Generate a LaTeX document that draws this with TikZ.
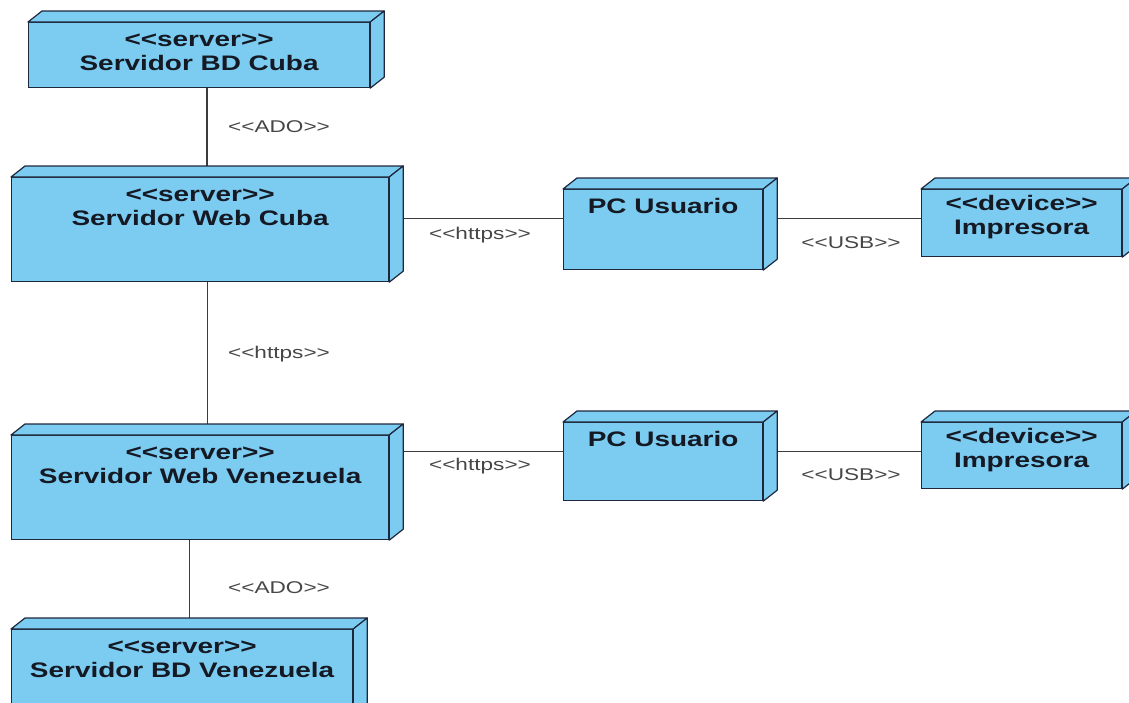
\documentclass[tikz,border=0pt]{standalone}
\usepackage{fontspec}
\newfontfamily\nodefont[FakeStretch=1.33]{Liberation Sans}
\usetikzlibrary{positioning,backgrounds}
\definecolor{nodefill}{RGB}{124,203,241}
\definecolor{nodeline}{RGB}{30,40,60}
\definecolor{nodeink}{RGB}{20,25,35}
\definecolor{lblink}{RGB}{70,70,70}
\definecolor{connline}{RGB}{60,60,60}
\tikzset{
  nodebox/.style={draw=nodeline, fill=nodefill, rectangle, line width=1.2pt, anchor=north west, inner sep=0pt},
  nodeface/.style={draw=nodeline, fill=nodefill, line width=1.2pt, line join=round},
  nodetext/.style={font=\nodefont\bfseries\fontsize{21}{24}\selectfont, text=nodeink, align=center, inner sep=0pt, anchor=base},
  conn/.style={draw=connline, line width=1.3pt},
  lbl/.style={font=\nodefont\fontsize{17}{20}\selectfont, text=lblink, inner sep=1pt},
}

\begin{document}
\begin{tikzpicture}[x=1pt,y=-1pt]
\useasboundingbox (0,0) rectangle (1129,702);
% nodes (front faces)
\node[nodebox, minimum width=341pt, minimum height=65pt] (bdcuba) at (28,22) {};
\node[nodebox, minimum width=377pt, minimum height=104pt] (webcuba) at (11,177) {};
\node[nodebox, minimum width=199pt, minimum height=80pt] (pc1) at (563,189) {};
\node[nodebox, minimum width=200pt, minimum height=67pt] (imp1) at (921,189) {};
\node[nodebox, minimum width=377pt, minimum height=104pt] (webven) at (11,435) {};
\node[nodebox, minimum width=199pt, minimum height=78pt] (pc2) at (563,422) {};
\node[nodebox, minimum width=200pt, minimum height=66pt] (imp2) at (921,422) {};
\node[nodebox, minimum width=341pt, minimum height=90pt] (bdven) at (11,629) {};
% depth of the boxes
\foreach \n in {bdcuba,webcuba,pc1,imp1,webven,pc2,imp2,bdven} {
  \draw[nodeface] (\n.north west) -- ++(14,-11) -- ([shift={(14,-11)}]\n.north east) -- (\n.north east) -- cycle;
  \draw[nodeface] (\n.north east) -- ++(14,-11) -- ([shift={(14,-11)}]\n.south east) -- (\n.south east) -- cycle;
}
% texts
\node[nodetext] (bdcubat) at ([yshift=-48pt]bdcuba.north) {<{}<server>{}>\\Servidor BD Cuba};
\node[nodetext] (webcubat) at ([yshift=-48pt]webcuba.north) {<{}<server>{}>\\Servidor Web Cuba};
\node[nodetext] (pc1t) at ([yshift=-24pt]pc1.north) {PC Usuario};
\node[nodetext] (imp1t) at ([yshift=-45pt]imp1.north) {<{}<device>{}>\\Impresora};
\node[nodetext] (webvent) at ([yshift=-48pt]webven.north) {<{}<server>{}>\\Servidor Web Venezuela};
\node[nodetext] (pc2t) at ([yshift=-24pt]pc2.north) {PC Usuario};
\node[nodetext] (imp2t) at ([yshift=-45pt]imp2.north) {<{}<device>{}>\\Impresora};
\node[nodetext] (bdvent) at ([yshift=-48pt]bdven.north) {<{}<server>{}>\\Servidor BD Venezuela};
% connectors
\begin{scope}[on background layer]
\draw[conn] ([xshift=8pt]bdcuba.center) -- ([xshift=8pt]bdcuba.center |- webcuba.center);
\draw[conn] ([xshift=7.5pt]webcuba.center) -- ([xshift=7.5pt]webcuba.center |- webven.center);
\draw[conn] ([xshift=7.5pt]bdven.center) -- ([xshift=7.5pt]bdven.center |- webven.center);
\draw[conn] ([yshift=11pt]webcuba.center) -- ([yshift=11pt]webcuba.center -| pc1.center);
\draw[conn] ([yshift=11pt]pc1.center) -- ([yshift=11pt]pc1.center -| imp1.center);
\draw[conn] ([yshift=10pt]pc2.center) -- ([yshift=10pt]pc2.center -| webven.center);
\draw[conn] ([yshift=10pt]pc2.center) -- ([yshift=10pt]pc2.center -| imp2.center);
\end{scope}
% connector labels
\node[lbl] (adocuba) at (279,127) {<{}<ADO>{}>};
\node[lbl] (httpsweb) at (279,354) {<{}<https>{}>};
\node[lbl] (httpscuba) at (480,235) {<{}<https>{}>};
\node[lbl] (usbcuba) at (851,243) {<{}<USB>{}>};
\node[lbl] (httpsven) at (480,466) {<{}<https>{}>};
\node[lbl] (usbven) at (851,475) {<{}<USB>{}>};
\node[lbl] (adoven) at (279,588) {<{}<ADO>{}>};
\end{tikzpicture}
\end{document}
